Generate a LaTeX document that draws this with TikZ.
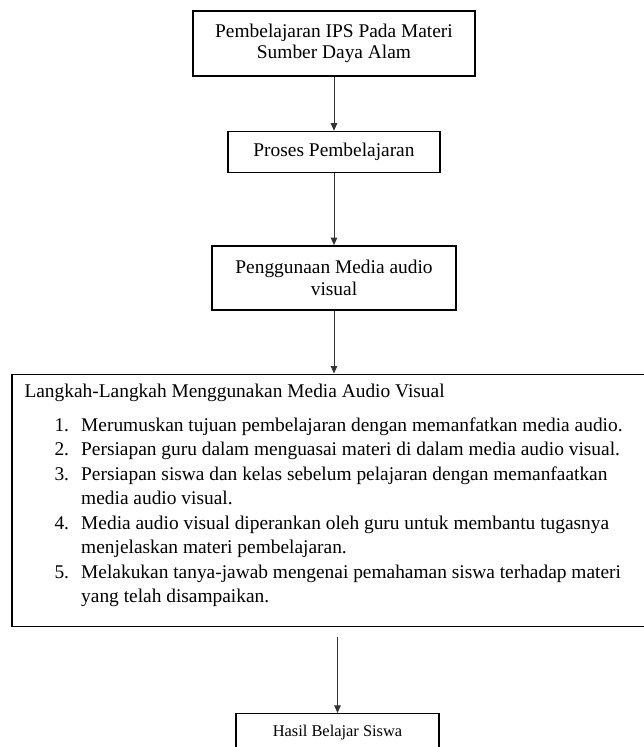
\documentclass[tikz,border=0pt]{standalone}
\usepackage{fontspec}
\setmainfont{Liberation Serif}
\usetikzlibrary{positioning,arrows.meta}
\tikzset{
	kerangka pikir/.style={
		x=1pt,y=-1pt,
		font=\fontsize{19.4}{21.5}\selectfont,
		flow arrow/.style={
			draw=black!80,
			line width=0.9pt,
			-{Triangle[width=6.5pt,length=7.5pt]}
		}
	},
	flow box/.style={
		rectangle,
		draw,
		line width=1.4pt,
		align=center,
		inner sep=0pt
	},
	steps box/.style={
		flow box,
		minimum width=644pt,
		minimum height=252pt
	},
	steps text/.style={
		inner sep=0pt,
		font=\fontsize{19.4}{24.5}\selectfont
	},
	result box/.style={
		flow box,
		minimum width=203pt,
		inner ysep=6pt,
		text height=17pt, % box runs off the page
		text depth=35pt,
		font=\fontsize{16.4}{19}\selectfont
	}
}

\begin{document}
\begin{tikzpicture}[kerangka pikir]
	\useasboundingbox (0,0) rectangle (644,747);
	\node[flow box,minimum width=282pt,minimum height=65pt] (materi) at (334,43.5)
		{Pembelajaran IPS Pada Materi\\Sumber Daya Alam};
	\node[flow box,minimum width=212pt,minimum height=41pt,below=54pt of materi] (proses)
		{Proses Pembelajaran};
	\node[flow box,minimum width=244pt,minimum height=64pt,below=72pt of proses] (media)
		{Penggunaan Media audio\\visual};
	\node[steps box,below=63pt of media] (langkah) {};
	\node[steps text,anchor=north west] (langkahisi) at ([shift={(13pt,-7pt)}]langkah.north west) {%
		\begin{tabular}{@{}p{30pt}@{}p{26.7pt}@{}l@{}}
			\multicolumn{3}{@{}l@{}}{Langkah-Langkah Menggunakan Media Audio Visual}\\[9pt]
			& 1. & Merumuskan tujuan pembelajaran dengan memanfatkan media audio.\\
			& 2. & Persiapan guru dalam menguasai materi di dalam media audio visual.\\
			& 3. & Persiapan siswa dan kelas sebelum pelajaran dengan memanfaatkan\\
			&    & media audio visual.\\
			& 4. & Media audio visual diperankan oleh guru untuk membantu tugasnya\\
			&    & menjelaskan materi pembelajaran.\\
			& 5. & Melakukan tanya-jawab mengenai pemahaman siswa terhadap materi\\
			&    & yang telah disampaikan.
		\end{tabular}};
	\node[result box,below=86pt of langkah,xshift=3.5pt] (hasil) {Hasil Belajar Siswa};

	% arrows
	\draw[flow arrow] (materi) -- (proses);
	\draw[flow arrow] (proses) -- (media);
	\draw[flow arrow] (media) -- (langkah);
	\draw[flow arrow,shorten <=10pt] (hasil.north |- langkah.south) -- (hasil.north);
\end{tikzpicture}
\end{document}
